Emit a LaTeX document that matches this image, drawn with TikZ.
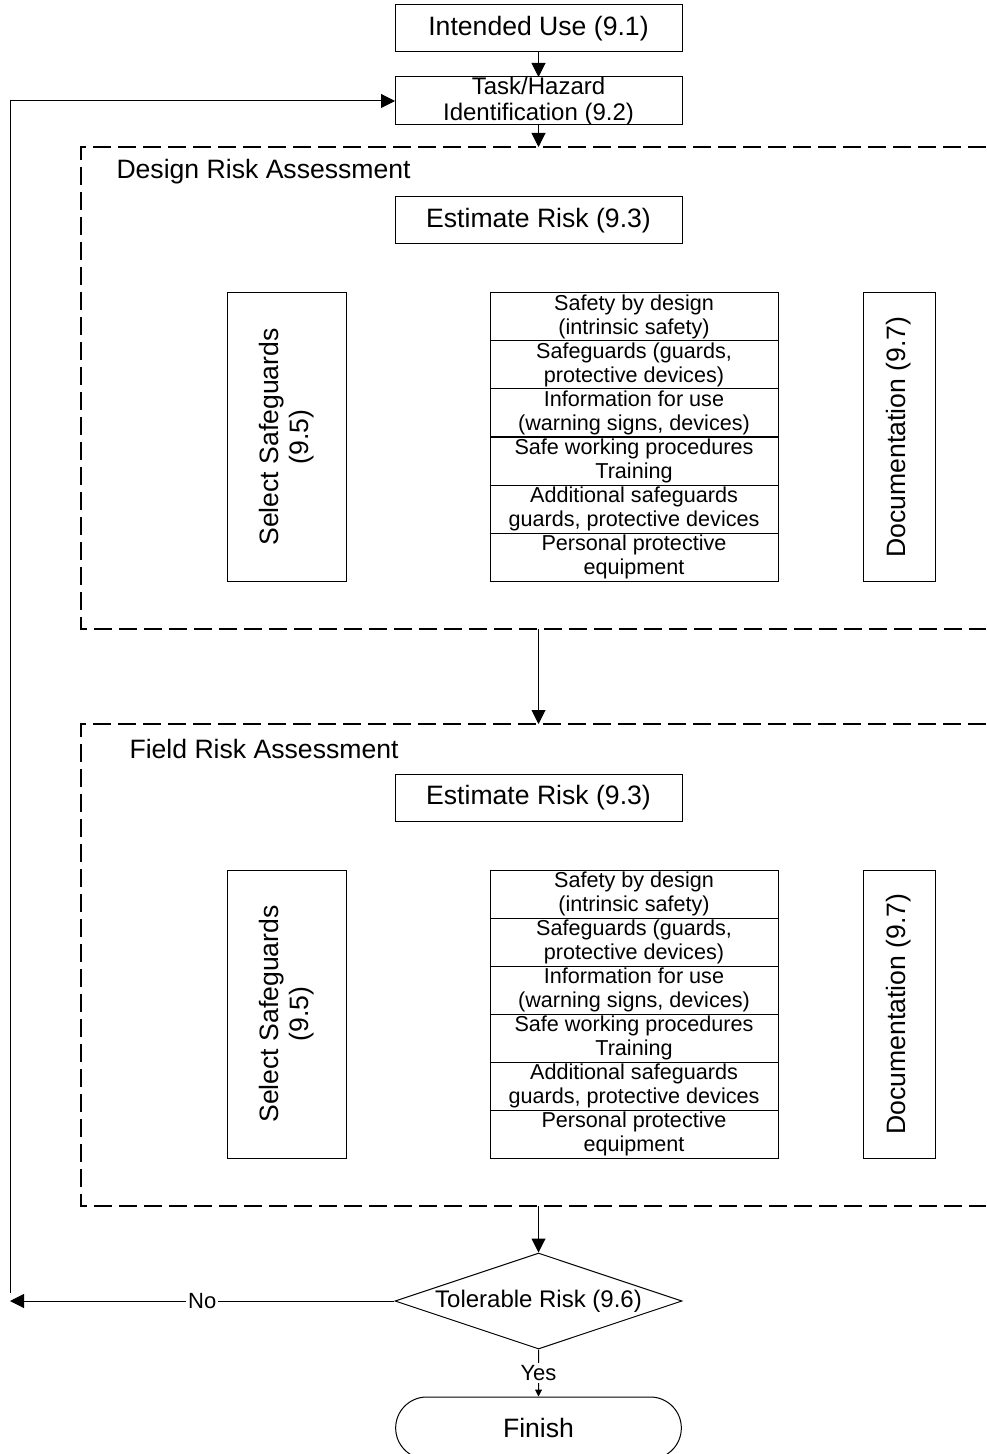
\documentclass[tikz,border=0pt]{standalone}
\usepackage{fontspec}
\setmainfont{Liberation Sans}
\usetikzlibrary{arrows.meta,positioning,shapes.geometric,shapes.misc}

\newcommand{\mainsize}{\fontsize{13.3}{15}\selectfont}
\newcommand{\midsize}{\fontsize{12}{13}\selectfont}
\newcommand{\rowsize}{\fontsize{10.8}{12}\selectfont}

\begin{document}
\begin{tikzpicture}[
  x=0.5pt, y=-0.5pt,
  line width=0.5pt,
  box/.style={draw, minimum width=143.5pt, minimum height=23.5pt, inner sep=1pt, outer sep=0pt, align=center, font=\mainsize},
  rowbox/.style={draw, minimum width=144pt, minimum height=24pt, inner xsep=1pt, inner ysep=-0.5pt, outer sep=0pt, align=center, font=\rowsize},
  sidebox/.style={draw, rotate=90, minimum width=144pt, inner sep=1pt, outer sep=0pt, align=center, font=\mainsize},
  dashbox/.style={line width=1.1pt, dash pattern=on 9pt off 3.5pt},
  decision/.style={diamond, draw, shape aspect=3, minimum width=143.5pt, minimum height=48pt, inner sep=0pt, font=\midsize},
  terminal/.style={rounded rectangle, draw, minimum width=149.5pt, minimum height=31pt, font=\mainsize},
  lbl/.style={fill=white, inner sep=1pt, font=\fontsize{11}{12}\selectfont},
  >={Triangle[length=7pt,width=7pt]}
]
\useasboundingbox (0,0) rectangle (986,1454);

\node[box] (intended) at (538.5,28.5) {Intended Use (9.1)};
\node[box, font=\midsize, inner ysep=-1.5pt, minimum height=24pt] (task) at (538.5,101) {Task/Hazard\\Identification (9.2)};

% the two assessment blocks
\foreach \s/\oy/\title/\tx in {d/0/Design Risk Assessment/116, f/577/Field Risk Assessment/129}{
  \begin{scope}[shift={(0,\oy)}]
    \draw[dashbox] (986,147) -- (81,147) -- (81,629) -- (986,629);
    \coordinate (top\s) at (538.5,147);
    \coordinate (bot\s) at (538.5,629);
    \node[anchor=west, inner sep=0pt, font=\mainsize] (title\s) at (\tx,172) {\title};
    \node[box] (est\s) at (538.5,220.5) {Estimate Risk (9.3)};
    \node[sidebox, minimum height=59.5pt] (sel\s) at (286.5,437) {Select Safeguards\\(9.5)};
    \node[sidebox, minimum height=36pt] (doc\s) at (899,437) {Documentation (9.7)};
    \foreach \t [count=\i] in {{Safety by design\\(intrinsic safety)},
                               {Safeguards (guards,\\protective devices)},
                               {Information for use\\(warning signs, devices)},
                               {Safe working procedures\\Training},
                               {Additional safeguards\\guards, protective devices},
                               {Personal protective\\equipment}}
      \node[rowbox] (row\s\i) at (634,{269+48*\i}) {\t};
  \end{scope}
}

\node[decision] (tol) at (538.5,1301) {Tolerable Risk (9.6)};
\node[terminal] (finish) at (538.5,1428) {Finish};

\coordinate (loopB) at (10,1301);
\coordinate (loopS) at (10,1293);
\coordinate (loopT) at (10,101);

\draw[->] (intended) -- (task);
\draw[->] (task) -- (topd);
\draw[->] (botd) -- (topf);
\draw[->] (botf) -- (tol);
\draw[->, >={Triangle[length=3.5pt,width=3.5pt]}] (tol) -- node[lbl, pos=0.5] {Yes} (finish);
\draw[->] (tol) -- node[lbl, pos=0.5] {No} (loopB);
\draw[->] (loopS) -- (loopT) -- (task.west);
\end{tikzpicture}
\end{document}
